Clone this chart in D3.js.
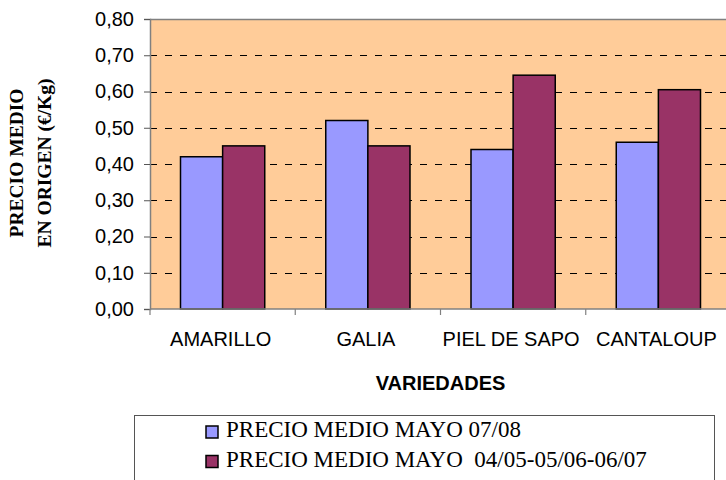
<!DOCTYPE html>
<html>
<head>
<meta charset="utf-8">
<script src="https://cdn.jsdelivr.net/npm/d3@7"></script>
<style>
  body { margin: 0; background: #fff; }
  svg { display: block; }
</style>
</head>
<body>
<div id="chart"></div>
<script>
const categories = ['AMARILLO', 'GALIA', 'PIEL DE SAPO', 'CANTALOUP'];
const seriesNames = ['PRECIO MEDIO MAYO 07/08', 'PRECIO MEDIO MAYO  04/05-05/06-06/07'];
const precio0708 = [0.42, 0.52, 0.44, 0.46];
const precioMedia = [0.45, 0.45, 0.645, 0.605];
const yTicks = [0, 0.1, 0.2, 0.3, 0.4, 0.5, 0.6, 0.7, 0.8];
const colors = ['#9999ff', '#993366'];

function drawChart(selector) {
  const width = 726;
  const height = 480;
  const plot = { left: 150, top: 19, right: 731, bottom: 309 };

  const svg = d3.select(selector).append('svg')
    .attr('width', width)
    .attr('height', height);

  const x = d3.scaleBand()
    .domain(categories)
    .range([plot.left, plot.right])
    .paddingInner(0.42)
    .paddingOuter(0.21);

  const x1 = d3.scaleBand()
    .domain([0, 1])
    .range([0, x.bandwidth()]);

  const y = d3.scaleLinear()
    .domain([0, 0.8])
    .range([plot.bottom, plot.top]);

  // plot background
  svg.append('rect')
    .attr('x', plot.left)
    .attr('y', plot.top)
    .attr('width', plot.right - plot.left)
    .attr('height', plot.bottom - plot.top)
    .attr('fill', '#ffcc99');

  // top border
  svg.append('line')
    .attr('x1', plot.left).attr('x2', plot.right)
    .attr('y1', plot.top + 0.5).attr('y2', plot.top + 0.5)
    .attr('stroke', '#808080')
    .attr('stroke-width', 1.5);

  // dashed grid lines
  svg.append('g')
    .selectAll('line')
    .data(yTicks.filter(d => d > 0 && d < 0.8))
    .join('line')
    .attr('x1', plot.left).attr('x2', plot.right)
    .attr('y1', d => Math.round(y(d)) + 0.5)
    .attr('y2', d => Math.round(y(d)) + 0.5)
    .attr('stroke', '#000')
    .attr('stroke-width', 1)
    .attr('stroke-dasharray', '7,8');

  // bars
  const data = categories.map((c, i) => ({ cat: c, values: [precio0708[i], precioMedia[i]] }));
  svg.append('g')
    .selectAll('g')
    .data(data)
    .join('g')
    .attr('transform', d => `translate(${x(d.cat)},0)`)
    .selectAll('rect')
    .data(d => d.values.map((v, k) => ({ k, v })))
    .join('rect')
    .attr('x', d => x1(d.k))
    .attr('y', d => y(d.v))
    .attr('width', x1.bandwidth())
    .attr('height', d => y(0) - y(d.v))
    .attr('fill', d => colors[d.k])
    .attr('stroke', '#000')
    .attr('stroke-width', 1.5);

  // y axis
  const yAxis = svg.append('g')
    .attr('transform', `translate(${plot.left},0)`)
    .call(d3.axisLeft(y).tickValues(yTicks).tickSize(6).tickPadding(10)
      .tickFormat(d => d3.format('.2f')(d).replace('.', ',')));
  yAxis.select('.domain').attr('stroke', '#808080').attr('stroke-width', 1.5);
  yAxis.selectAll('.tick line').attr('stroke', '#555');
  yAxis.selectAll('text')
    .attr('font-family', 'Arial, "Liberation Sans", sans-serif')
    .attr('font-size', 20)
    .attr('fill', '#000');

  // x axis
  svg.append('line')
    .attr('x1', plot.left).attr('x2', plot.right)
    .attr('y1', plot.bottom).attr('y2', plot.bottom)
    .attr('stroke', '#808080')
    .attr('stroke-width', 1.5);

  const step = x.step();
  svg.append('g')
    .selectAll('line')
    .data(d3.range(categories.length + 1))
    .join('line')
    .attr('x1', i => plot.left + i * step)
    .attr('x2', i => plot.left + i * step)
    .attr('y1', plot.bottom)
    .attr('y2', plot.bottom + 6)
    .attr('stroke', '#808080')
    .attr('stroke-width', 1.2);

  svg.append('g')
    .selectAll('text')
    .data(categories)
    .join('text')
    .attr('x', d => x(d) + x.bandwidth() / 2 - 2)
    .attr('y', 346)
    .attr('text-anchor', 'middle')
    .attr('font-family', 'Arial, "Liberation Sans", sans-serif')
    .attr('font-size', 20)
    .text(d => d);

  svg.append('text')
    .attr('x', (plot.left + plot.right) / 2)
    .attr('y', 390)
    .attr('text-anchor', 'middle')
    .attr('font-family', 'Arial, "Liberation Sans", sans-serif')
    .attr('font-weight', 'bold')
    .attr('font-size', 20)
    .text('VARIEDADES');

  // y axis title
  const yTitle = svg.append('text')
    .attr('transform', 'translate(0,163) rotate(-90)')
    .attr('text-anchor', 'middle')
    .attr('font-family', '"Times New Roman", "Liberation Serif", serif')
    .attr('font-weight', 'bold')
    .attr('font-size', 19.5);
  yTitle.append('tspan').attr('x', 0).attr('y', 23).text('PRECIO MEDIO');
  yTitle.append('tspan').attr('x', 0).attr('y', 51).text('EN ORIGEN (€/Kg)');

  // legend
  svg.append('rect')
    .attr('x', 134.5)
    .attr('y', 415.5)
    .attr('width', 580)
    .attr('height', 80)
    .attr('fill', '#fff')
    .attr('stroke', '#555')
    .attr('stroke-width', 1);

  const legend = svg.append('g')
    .selectAll('g')
    .data(seriesNames)
    .join('g')
    .attr('transform', (d, i) => `translate(206,${426 + i * 29.5})`);

  legend.append('rect')
    .attr('width', 12)
    .attr('height', 12)
    .attr('fill', (d, i) => colors[i])
    .attr('stroke', '#000')
    .attr('stroke-width', 1.5);

  legend.append('text')
    .attr('x', 20)
    .attr('y', 11)
    .attr('font-family', '"Times New Roman", "Liberation Serif", serif')
    .attr('font-size', 23)
    .attr('xml:space', 'preserve')
    .style('white-space', 'pre')
    .text(d => d);
}

drawChart('#chart');
</script>
</body>
</html>
